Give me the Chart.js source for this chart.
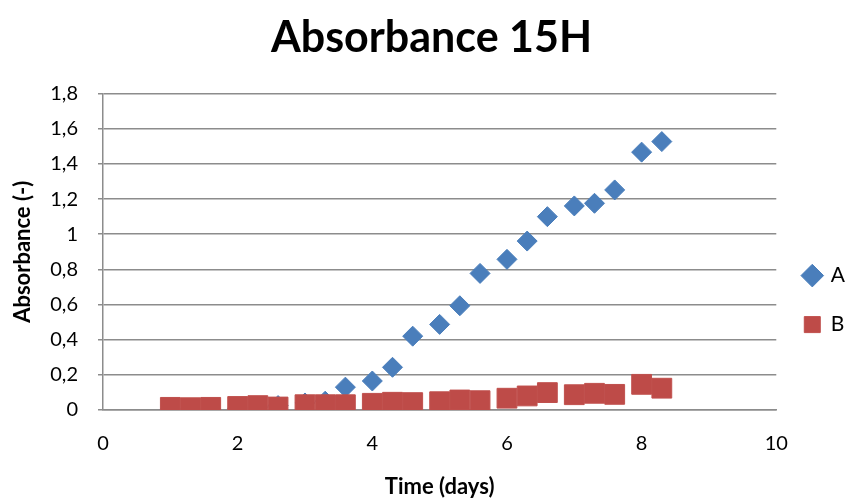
<!DOCTYPE html>
<html>
<head>
<meta charset="utf-8">
<script src="https://cdn.jsdelivr.net/npm/chart.js@4/dist/chart.umd.min.js"></script>
<style>
  html, body { margin: 0; padding: 0; background: #fff; }
  #wrap { width: 868px; height: 500px; }
</style>
</head>
<body>
<div id="wrap"><canvas id="myChart" width="868" height="500"></canvas></div>
<script>
// time points (days)
var days = [1, 1.3, 1.6, 2, 2.3, 2.6, 3, 3.3, 3.6, 4, 4.3, 4.6, 5, 5.3, 5.6, 6, 6.3, 6.6, 7, 7.3, 7.6, 8, 8.3];
// absorbance series
var seriesA = [0.005, 0.005, 0.005, 0.01, 0.015, 0.025, 0.04, 0.05, 0.13, 0.165, 0.243, 0.42, 0.487, 0.593, 0.777, 0.857, 0.961, 1.10, 1.161, 1.176, 1.252, 1.467, 1.527];
var seriesB = [0.015, 0.013, 0.015, 0.02, 0.025, 0.017, 0.03, 0.03, 0.03, 0.038, 0.044, 0.042, 0.047, 0.057, 0.053, 0.067, 0.08, 0.099, 0.087, 0.095, 0.089, 0.146, 0.124];

var xTickValues = [0, 2, 4, 6, 8, 10];
var xTickLabels = ["0", "2", "4", "6", "8", "10"];
var yTickValues = [0, 0.2, 0.4, 0.6, 0.8, 1, 1.2, 1.4, 1.6, 1.8];
var yTickLabels = ["0", "0,2", "0,4", "0,6", "0,8", "1", "1,2", "1,4", "1,6", "1,8"];

var FONT = "Lato, 'Open Sans', sans-serif";
var GRID = "#8c8c8c";

function toPoints(xs, ys) {
  return xs.map(function (x, i) { return { x: x, y: ys[i] }; });
}

(function () {
  buildChart();
})();

function buildChart() {
  var ctx = document.getElementById("myChart").getContext("2d");

  new Chart(ctx, {
    type: "scatter",
    data: {
      datasets: [
        {
          label: "A",
          data: toPoints(days, seriesA),
          order: 2, // drawn under B like in excel
          pointStyle: "rectRot",
          pointRadius: 10,
          backgroundColor: "#4a7ebb",
          borderColor: "#4a7ebb",
          borderWidth: 1,
        },
        {
          label: "B",
          data: toPoints(days, seriesB),
          order: 1,
          pointStyle: "rect",
          pointRadius: 14,
          backgroundColor: "#be4b48",
          borderColor: "#c0504d",
          borderWidth: 1,
        },
      ],
    },
    options: {
      responsive: false,
      animation: false,
      events: [],
      layout: { padding: { left: 8, right: 13, top: 0, bottom: 0 } },
      plugins: {
        title: {
          display: true,
          text: "Absorbance 15H",
          color: "#000",
          font: { family: FONT, size: 43, weight: "bold" },
          padding: { top: 12, bottom: 30 },
        },
        legend: {
          position: "right",
          // empty title just pushes the items down
          title: { display: true, text: "", font: { size: 1 }, padding: { top: 99, bottom: 0 } },
          labels: {
            usePointStyle: true,
            color: "#000",
            font: { family: FONT, size: 21 },
            padding: 28,
            boxWidth: 16,
            boxHeight: 16,
            sort: function (a, b) { return a.datasetIndex - b.datasetIndex; },
          },
        },
        tooltip: { enabled: false },
      },
      scales: {
        x: {
          type: "linear",
          min: 0,
          max: 10,
          afterBuildTicks: function (scale) {
            scale.ticks = xTickValues.map(function (v) { return { value: v }; });
          },
          afterFit: function (scale) { scale.height = 90; },
          ticks: {
            color: "#000",
            font: { family: FONT, size: 20 },
            padding: 22,
            callback: function (v, i) { return xTickLabels[i]; },
          },
          grid: { display: false, drawTicks: false },
          border: { display: true, color: GRID, width: 1.5 },
          title: {
            display: true,
            text: "Time (days)",
            color: "#000",
            font: { family: FONT, size: 22, weight: "bold" },
            padding: { top: 12, bottom: 0 },
          },
        },
        y: {
          min: 0,
          max: 1.8,
          afterBuildTicks: function (scale) {
            scale.ticks = yTickValues.map(function (v) { return { value: v }; });
          },
          afterFit: function (scale) { scale.width = 95; },
          ticks: {
            color: "#000",
            font: { family: FONT, size: 20 },
            padding: 20,
            callback: function (v, i) { return yTickLabels[i]; },
          },
          grid: { color: GRID, lineWidth: 1.5, tickLength: 5 },
          border: { display: true, color: GRID, width: 1.5 },
          title: {
            display: true,
            text: "Absorbance (-)",
            color: "#000",
            font: { family: FONT, size: 22, weight: "bold" },
            padding: { top: 2, bottom: 0 },
          },
        },
      },
    },
  });
}
</script>
</body>
</html>
